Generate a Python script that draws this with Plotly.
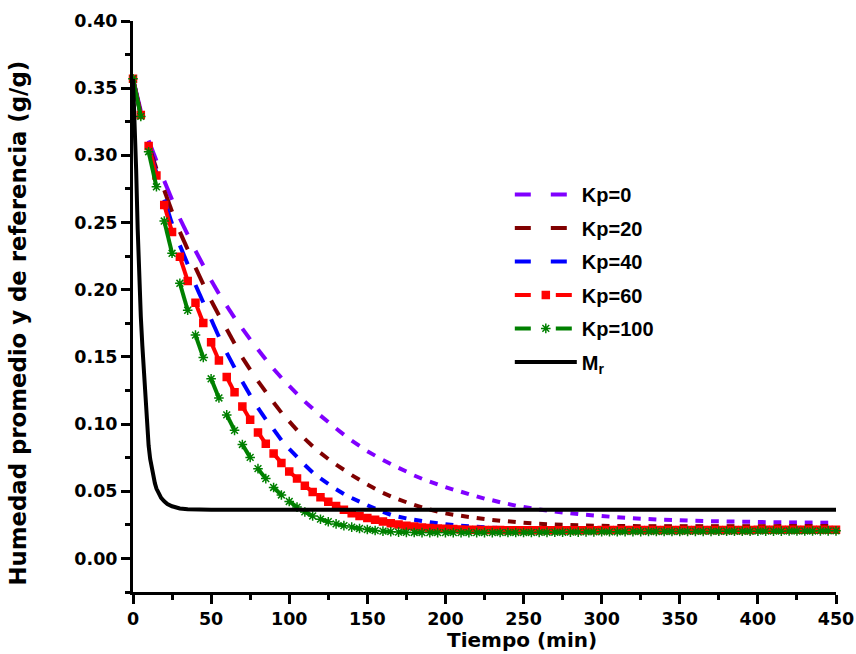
import plotly.graph_objects as go

# time (min), sampled every 5 min
t = [0, 5, 10, 15, 20, 25, 30, 35, 40, 45,
     50, 55, 60, 65, 70, 75, 80, 85, 90, 95,
     100, 105, 110, 115, 120, 125, 130, 135, 140, 145,
     150, 155, 160, 165, 170, 175, 180, 185, 190, 195,
     200, 205, 210, 215, 220, 225, 230, 235, 240, 245,
     250, 255, 260, 265, 270, 275, 280, 285, 290, 295,
     300, 305, 310, 315, 320, 325, 330, 335, 340, 345,
     350, 355, 360, 365, 370, 375, 380, 385, 390, 395,
     400, 405, 410, 415, 420, 425, 430, 435, 440, 445,
     450]

kp0 = [0.357, 0.333, 0.311, 0.296, 0.281, 0.267, 0.253, 0.241, 0.229, 0.218,
       0.207, 0.197, 0.188, 0.179, 0.171, 0.163, 0.1555, 0.148, 0.141, 0.1345,
       0.1285, 0.1225, 0.1167, 0.1115, 0.1063, 0.1015, 0.0967, 0.0921, 0.0877, 0.0837,
       0.0798, 0.0765, 0.0733, 0.0703, 0.0674, 0.0647, 0.0617, 0.0593, 0.0572, 0.0551,
       0.0531, 0.0512, 0.0496, 0.0478, 0.0462, 0.0445, 0.0433, 0.0418, 0.0406, 0.0393,
       0.0383, 0.0373, 0.0364, 0.0356, 0.0349, 0.0342, 0.0336, 0.0330, 0.0325, 0.0320,
       0.0316, 0.0311, 0.0307, 0.0303, 0.0299, 0.0296, 0.0293, 0.0290, 0.0288, 0.0286,
       0.0284, 0.0282, 0.0280, 0.0279, 0.0277, 0.0276, 0.0275, 0.0274, 0.0273, 0.0272,
       0.0271, 0.0270, 0.0270, 0.0269, 0.0268, 0.0268, 0.0267, 0.0267, 0.0266, 0.0266,
       0.0266]

kp20 = [0.357, 0.331, 0.308, 0.290, 0.274, 0.258, 0.243, 0.230, 0.2165, 0.204,
        0.192, 0.181, 0.1705, 0.160, 0.1495, 0.1405, 0.132, 0.124, 0.116, 0.1085,
        0.102, 0.0955, 0.089, 0.0835, 0.0785, 0.074, 0.0698, 0.066, 0.062, 0.0585,
        0.055, 0.0518, 0.0488, 0.0462, 0.044, 0.0418, 0.0398, 0.038, 0.0364, 0.0348,
        0.0335, 0.0325, 0.0317, 0.0309, 0.0300, 0.0293, 0.0286, 0.0280, 0.0276, 0.0271,
        0.0265, 0.0261, 0.0258, 0.0255, 0.0252, 0.0250, 0.0248, 0.0246, 0.0245, 0.0244,
        0.0243, 0.0242, 0.0242, 0.0241, 0.0241, 0.0240, 0.0240, 0.0240, 0.0240, 0.0240,
        0.0240, 0.0240, 0.0240, 0.0240, 0.0240, 0.0240, 0.0240, 0.0240, 0.0240, 0.0240,
        0.0240, 0.0240, 0.0240, 0.0241, 0.0241, 0.0241, 0.0241, 0.0241, 0.0241, 0.0241,
        0.0241]

kp40 = [0.357, 0.330, 0.307, 0.287, 0.267, 0.249, 0.233, 0.219, 0.2035, 0.1905,
        0.178, 0.165, 0.153, 0.142, 0.1315, 0.1215, 0.112, 0.1035, 0.096, 0.088,
        0.0815, 0.0755, 0.0695, 0.064, 0.0595, 0.0555, 0.0515, 0.048, 0.045, 0.0423,
        0.0396, 0.037, 0.0346, 0.0325, 0.031, 0.0298, 0.0287, 0.0278, 0.027, 0.0262,
        0.0255, 0.0248, 0.0244, 0.0240, 0.0236, 0.0232, 0.0229, 0.0227, 0.0225, 0.0223,
        0.0222, 0.0221, 0.0220, 0.0219, 0.0218, 0.0218, 0.0217, 0.0217, 0.0217, 0.0217,
        0.0217, 0.0217, 0.0217, 0.0217, 0.0217, 0.0217, 0.0217, 0.0217, 0.0217, 0.0217,
        0.0217, 0.0217, 0.0218, 0.0218, 0.0218, 0.0218, 0.0218, 0.0218, 0.0218, 0.0218,
        0.0218, 0.0218, 0.0218, 0.0219, 0.0219, 0.0219, 0.0219, 0.0219, 0.0219, 0.0219,
        0.0219]

kp60 = [0.357, 0.330, 0.307, 0.285, 0.263, 0.243, 0.2245, 0.2065, 0.1902, 0.1752,
        0.1608, 0.1473, 0.135, 0.1236, 0.113, 0.1032, 0.0938, 0.0854, 0.078, 0.0711,
        0.0646, 0.0594, 0.0540, 0.0495, 0.0455, 0.0421, 0.0391, 0.0362, 0.0337, 0.0316,
        0.0300, 0.0287, 0.0274, 0.0262, 0.0252, 0.0244, 0.0237, 0.0231, 0.0227, 0.0223,
        0.0220, 0.0218, 0.0216, 0.0214, 0.0213, 0.0212, 0.0211, 0.0211, 0.0210, 0.0210,
        0.0210, 0.0210, 0.0210, 0.0210, 0.0210, 0.0210, 0.0210, 0.0210, 0.0210, 0.0210,
        0.0211, 0.0211, 0.0211, 0.0211, 0.0211, 0.0211, 0.0211, 0.0211, 0.0211, 0.0211,
        0.0212, 0.0212, 0.0212, 0.0212, 0.0212, 0.0212, 0.0212, 0.0212, 0.0212, 0.0212,
        0.0213, 0.0213, 0.0213, 0.0213, 0.0213, 0.0213, 0.0213, 0.0214, 0.0214, 0.0214,
        0.0214]

kp100 = [0.357, 0.329, 0.3027, 0.2766, 0.2511, 0.2271, 0.2048, 0.1847, 0.1662, 0.1495,
         0.1337, 0.1194, 0.1068, 0.0953, 0.0848, 0.0752, 0.0668, 0.0594, 0.0528, 0.0472,
         0.0424, 0.0382, 0.0346, 0.0316, 0.0292, 0.0273, 0.0257, 0.0244, 0.0233, 0.0223,
         0.0215, 0.0208, 0.0203, 0.0199, 0.0196, 0.0194, 0.0193, 0.0192, 0.0192, 0.0192,
         0.0192, 0.0192, 0.0192, 0.0192, 0.0192, 0.0192, 0.0192, 0.0193, 0.0193, 0.0193,
         0.0193, 0.0193, 0.0194, 0.0194, 0.0195, 0.0195, 0.0196, 0.0196, 0.0197, 0.0197,
         0.0198, 0.0198, 0.0198, 0.0199, 0.0199, 0.0199, 0.0200, 0.0200, 0.0200, 0.0200,
         0.0200, 0.0201, 0.0201, 0.0201, 0.0201, 0.0202, 0.0202, 0.0202, 0.0202, 0.0202,
         0.0203, 0.0203, 0.0203, 0.0203, 0.0204, 0.0204, 0.0204, 0.0204, 0.0205, 0.0205,
         0.0205]

# reference moisture M_r
t_mr = [0, 1, 2, 3, 4, 5, 6, 7, 8, 9, 10, 11, 12, 13, 14, 15, 16, 18, 20, 22, 25, 30, 35, 40,
        50, 100, 150, 200, 250, 300, 350, 400, 450]
m_r = [0.357, 0.330, 0.290, 0.245, 0.205, 0.180, 0.158, 0.137, 0.117, 0.099, 0.084, 0.074,
       0.067, 0.061, 0.056, 0.052, 0.049, 0.045, 0.0425, 0.0405, 0.0388, 0.0372, 0.0366, 0.0363,
       0.0362, 0.0362, 0.0362, 0.0362, 0.0362, 0.0362, 0.0362, 0.0362, 0.0362]

names = ["Kp=0", "Kp=20", "Kp=40", "Kp=60", "Kp=100"]
values = [kp0, kp20, kp40, kp60, kp100]
colors = ["#8000FF", "#800000", "#0000FF", "#FF0000", "#008000"]
symbols = [None, None, None, "square", "asterisk-open"]


def segmented(xs, ys):
    """Origin-style dashes: every other interval between samples is drawn."""
    sx, sy = [], []
    for i in range(0, len(xs), 2):
        sx += list(xs[i:i + 2]) + [None]
        sy += list(ys[i:i + 2]) + [None]
    return sx, sy


fig = go.Figure()

for name, vals, col, sym in zip(names, values, colors, symbols):
    sx, sy = segmented(t, vals)
    if sym is None:
        fig.add_trace(go.Scatter(x=sx, y=sy, mode="lines", connectgaps=False,
                                 line=dict(color=col, width=4), showlegend=False,
                                 hoverinfo="skip"))
    else:
        mk = dict(symbol=sym, color=col, size=7 if sym == "square" else 8,
                  line=dict(color=col, width=1.5))
        fig.add_trace(go.Scatter(x=sx, y=sy, mode="lines+markers", connectgaps=False,
                                 line=dict(color=col, width=4), marker=mk,
                                 showlegend=False, cliponaxis=False, hoverinfo="skip"))

fig.add_trace(go.Scatter(x=t_mr, y=m_r, mode="lines", line=dict(color="black", width=4),
                         showlegend=False, hoverinfo="skip"))

# legend entries
for i, (name, col, sym) in enumerate(zip(names, colors, symbols)):
    if sym is None:
        fig.add_trace(go.Scatter(x=[None], y=[None], mode="lines", name=name,
                                 legendgroup=f"g{i}",
                                 line=dict(color=col, width=4, dash="16px,20px")))
    else:
        mk = dict(symbol=sym, color=col, size=7 if sym == "square" else 8,
                  line=dict(color=col, width=1.5))
        fig.add_trace(go.Scatter(x=[None], y=[None], mode="lines+markers", name=name,
                                 legendgroup=f"g{i}",
                                 line=dict(color=col, width=4, dash="16px,25px"), marker=mk))
fig.add_trace(go.Scatter(x=[None], y=[None], mode="lines", name="M<sub>r</sub>",
                         legendgroup="g5", line=dict(color="black", width=4)))

axis_font = dict(family="DejaVu Sans", size=17.5, color="black", weight="bold")
common = dict(showline=True, linewidth=3, linecolor="black", ticks="outside", ticklen=9,
              tickwidth=3, tickcolor="black", showgrid=False, zeroline=False, mirror=False,
              tickfont=axis_font)

fig.update_xaxes(range=[0, 450], tick0=0, dtick=50,
                 minor=dict(dtick=25, ticks="outside", ticklen=5, tickwidth=3, tickcolor="black"),
                 **common)
fig.update_yaxes(range=[-0.025, 0.40], tick0=0, dtick=0.05, tickformat=".2f",
                 minor=dict(dtick=0.025, ticks="outside", ticklen=5, tickwidth=3, tickcolor="black"),
                 **common)

fig.update_layout(
    width=856, height=654,
    margin=dict(l=133, r=20, t=21, b=62, autoexpand=False),
    paper_bgcolor="white", plot_bgcolor="white",
    showlegend=True,
    legend=dict(x=0.536, y=0.7305, xanchor="left", yanchor="top",
                bgcolor="rgba(0,0,0,0)", borderwidth=0,
                traceorder="grouped", tracegroupgap=4.5, itemwidth=62,
                font=dict(family="Liberation Sans, Arial", size=20, color="black", weight="bold")),
    annotations=[
        dict(text="Tiempo (min)", xref="paper", yref="paper", x=0.553, y=-0.084,
             xanchor="center", yanchor="middle", showarrow=False,
             font=dict(family="DejaVu Sans", size=20, color="black", weight="bold")),
        dict(text="Humedad promedio y de referencia (g/g)", xref="paper", yref="paper",
             x=-0.1636, y=0.472, xanchor="center", yanchor="middle", textangle=-90,
             showarrow=False,
             font=dict(family="DejaVu Sans", size=22.8, color="black", weight="bold")),
    ],
)

fig.write_html("out.html")
